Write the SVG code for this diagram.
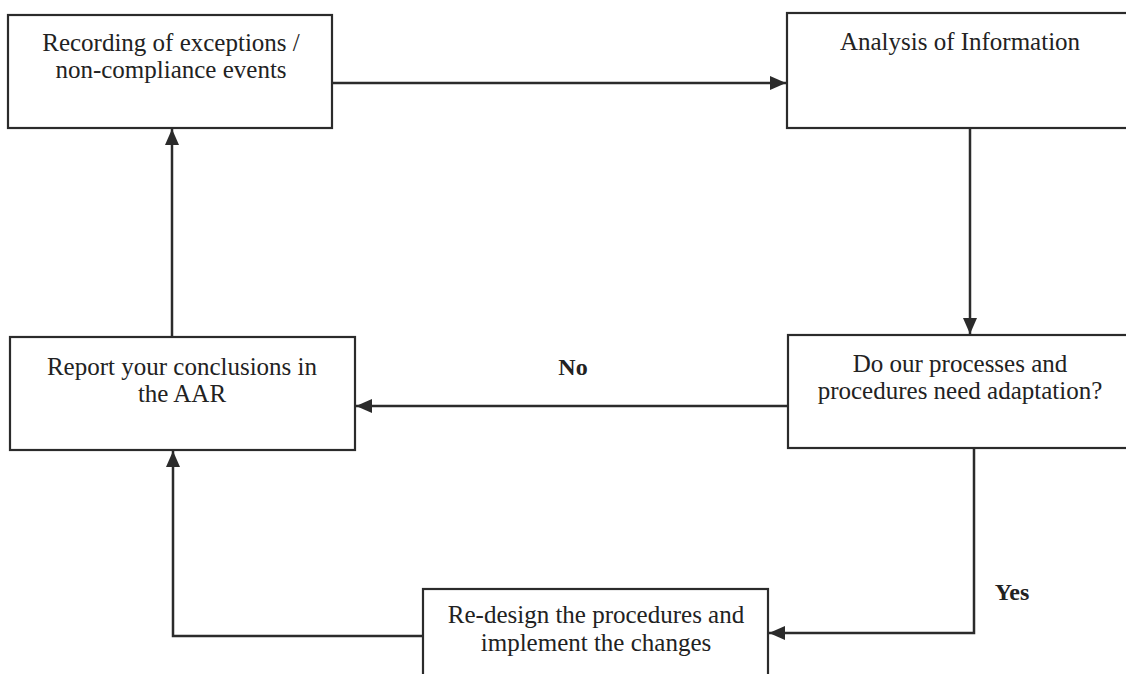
<svg xmlns="http://www.w3.org/2000/svg" width="1126" height="674" viewBox="0 0 1126 674">
<style>
.box{fill:#fff;stroke:#2b2b2b;stroke-width:2.2}
.t{font-family:"Liberation Serif","Times New Roman",serif;font-size:25px;fill:#222;text-anchor:middle}
.lbl{font-family:"Liberation Serif","Times New Roman",serif;font-size:24px;font-weight:bold;fill:#222;text-anchor:middle}
.c{fill:none;stroke:#2b2b2b;stroke-width:2.5}
</style>
<defs>
<marker id="ah" viewBox="0 0 16 14" refX="16" refY="7" markerWidth="16" markerHeight="14" markerUnits="userSpaceOnUse" orient="auto">
<path d="M0,0 L16,7 L0,14 Z" fill="#2b2b2b"/>
</marker>
</defs>
<rect width="1126" height="674" fill="#fff"/>
<g id="connectors">
<path class="c" d="M333,83 H786" marker-end="url(#ah)"/>
<path class="c" d="M970,128 V334" marker-end="url(#ah)"/>
<path class="c" d="M788,406 H356" marker-end="url(#ah)"/>
<path class="c" d="M974,448 V633 H769" marker-end="url(#ah)"/>
<path class="c" d="M423,636 H173 V451" marker-end="url(#ah)"/>
<path class="c" d="M172,337 V129" marker-end="url(#ah)"/>
<text class="lbl" x="573" y="375">No</text>
<text class="lbl" x="1012" y="600">Yes</text>
</g>
<g id="n1">
<rect class="box" x="8" y="15" width="324" height="113"/>
<text class="t" x="171" y="51">Recording of exceptions /</text>
<text class="t" x="171" y="78">non-compliance events</text>
</g>
<g id="n2">
<rect class="box" x="787" y="13" width="360" height="115"/>
<text class="t" x="960" y="50">Analysis of Information</text>
</g>
<g id="n3">
<rect class="box" x="10" y="337" width="345" height="113"/>
<text class="t" x="182" y="375">Report your conclusions in</text>
<text class="t" x="182" y="402">the AAR</text>
</g>
<g id="n4">
<rect class="box" x="788" y="335" width="360" height="113"/>
<text class="t" x="960" y="372">Do our processes and</text>
<text class="t" x="960" y="399">procedures need adaptation?</text>
</g>
<g id="n5">
<rect class="box" x="423" y="589" width="345" height="110"/>
<text class="t" x="596" y="623">Re-design the procedures and</text>
<text class="t" x="596" y="651">implement the changes</text>
</g>
</svg>
